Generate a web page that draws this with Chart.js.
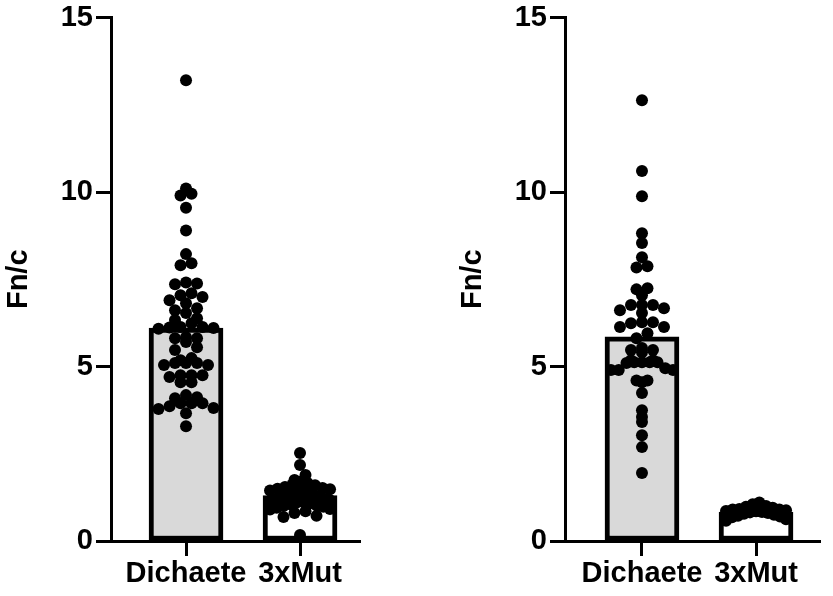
<!DOCTYPE html>
<html>
<head>
<meta charset="utf-8">
<script src="https://cdn.jsdelivr.net/npm/chart.js@4.4.1/dist/chart.umd.min.js"></script>
<style>
  body { margin: 0; background: #fff; }
  canvas { position: absolute; top: 0; }
</style>
</head>
<body>
<canvas id="left" width="416" height="596" style="left:0px"></canvas>
<canvas id="right" width="379" height="596" style="left:454px"></canvas>
<script>
const categories = ["Dichaete", "3xMut"];
const yTicks = [0, 5, 10, 15];

// bar heights (means)
const leftMeans = [6.1, 1.3];
const rightMeans = [5.85, 0.83];

// individual points
const leftDichaete = [13.2, 10.1, 9.95, 9.9, 9.55, 8.9, 8.22, 7.96, 7.9, 7.41, 7.38, 7.36,
  7.1, 7.04, 6.99, 6.9, 6.81, 6.67, 6.61, 6.53, 6.38, 6.33, 6.24, 6.13, 6.13, 6.12, 6.1,
  6.08, 5.84, 5.81, 5.81, 5.7, 5.55, 5.47, 5.24, 5.18, 5.1, 5.1, 5.1, 5.04, 5.04, 4.75,
  4.75, 4.75, 4.7, 4.55, 4.55, 4.18, 4.12, 4.09, 3.95, 3.95, 3.95, 3.86, 3.81, 3.78, 3.66, 3.29];
const left3xMut = [2.52, 2.18, 1.89, 1.75, 1.7, 1.66, 1.62, 1.6, 1.55, 1.52, 1.5, 1.48, 1.45,
  1.42, 1.4, 1.38, 1.36, 1.35, 1.33, 1.3, 1.28, 1.27, 1.25, 1.22, 1.2, 1.18, 1.17, 1.15,
  1.12, 1.1, 1.08, 1.05, 1.02, 1.0, 0.98, 0.95, 0.92, 0.9, 0.85, 0.8, 0.72, 0.69, 0.17];
const rightDichaete = [12.63, 10.6, 9.88, 8.82, 8.54, 8.13, 7.87, 7.84, 7.24, 7.21, 7.04,
  6.76, 6.76, 6.76, 6.67, 6.61, 6.53, 6.27, 6.27, 6.24, 6.13, 6.13, 5.95, 5.81, 5.53, 5.47,
  5.47, 5.41, 5.18, 5.18, 5.12, 5.12, 5.12, 5.12, 5.1, 4.95, 4.9, 4.9, 4.9, 4.6, 4.6, 4.55,
  4.24, 3.75, 3.55, 3.41, 3.03, 2.69, 1.95];
const right3xMut = [1.1, 1.05, 1.0, 0.98, 0.95, 0.92, 0.9, 0.9, 0.88, 0.86, 0.85, 0.83,
  0.82, 0.8, 0.78, 0.75, 0.72, 0.7, 0.68, 0.62, 0.58];

// pixels per data unit on each axis (used only to lay out the swarm)
const PX_Y = 524 / 15;
const PX_X = 114;

Chart.defaults.font.family = "'Liberation Sans', Arial, sans-serif";
Chart.defaults.font.weight = "bold";
Chart.defaults.color = "#000";

// Prism-like scatter: bin values into rows, spread each row around the centre
// (lowest values at the ends of a row, highest in the middle)
function swarm(values, center, maxHalf) {
  const rowH = 10, gap = 11;
  const rows = {};
  values.slice().sort((a, b) => a - b).forEach(v => {
    const k = Math.floor(v * PX_Y / rowH);
    (rows[k] = rows[k] || []).push(v);
  });
  const out = [];
  Object.values(rows).forEach(row => {
    const n = row.length;
    const s = n > 1 ? Math.min(gap, 2 * maxHalf / (n - 1)) : 0;
    const even = row.filter((v, i) => i % 2 === 0);
    const odd = row.filter((v, i) => i % 2 === 1).reverse();
    even.concat(odd).forEach((v, i) => {
      const off = (i - (n - 1) / 2) * s;
      out.push({ x: center + off / PX_X, y: v });
    });
  });
  return out;
}

function makeChart(id, means, groups, xMin, xMax, padRight) {
  const points = swarm(groups[0], 0, 31).concat(swarm(groups[1], 1, 30));
  return new Chart(document.getElementById(id), {
    type: "bar",
    data: {
      datasets: [
        {
          type: "scatter",
          data: points,
          pointRadius: 6,
          pointHoverRadius: 6,
          pointBackgroundColor: "#000",
          pointBorderWidth: 0,
          order: 0
        },
        {
          data: means.map((m, i) => ({ x: i, y: m })),
          backgroundColor: ["#d9d9d9", "#ffffff"],
          borderColor: "#000",
          borderWidth: 5,
          borderSkipped: false,
          barThickness: 74,
          order: 1
        }
      ]
    },
    options: {
      responsive: false,
      animation: false,
      layout: { padding: { top: 17, right: padRight, left: 0, bottom: 0 } },
      plugins: { legend: { display: false }, tooltip: { enabled: false } },
      scales: {
        x: {
          type: "linear",
          offset: false,
          min: xMin,
          max: xMax,
          afterBuildTicks: (scale) => { scale.ticks = categories.map((c, i) => ({ value: i })); },
          afterFit: (scale) => { scale.height = 55; },
          border: { display: true, width: 3, color: "#000" },
          grid: { display: true, offset: false, drawOnChartArea: false, drawTicks: true, tickLength: 15, tickWidth: 3, tickColor: "#000" },
          ticks: {
            font: { size: 29, weight: "bold", lineHeight: 1 },
            padding: 3,
            maxRotation: 0,
            autoSkip: false,
            callback: (v) => categories[v]
          }
        },
        y: {
          min: 0,
          max: 15,
          afterBuildTicks: (scale) => { scale.ticks = yTicks.map(v => ({ value: v })); },
          afterFit: (scale) => { scale.width = 111; },
          border: { display: true, width: 3, color: "#000" },
          grid: { display: true, drawOnChartArea: false, drawTicks: true, tickLength: 15, tickWidth: 3, tickColor: "#000" },
          ticks: { font: { size: 29, weight: "bold", lineHeight: 1 }, padding: 3 },
          title: {
            display: true,
            text: "Fn/c",
            font: { size: 29, weight: "bold", lineHeight: 1.2 },
            padding: { top: 2, bottom: 0 }
          }
        }
      }
    }
  });
}

makeChart("left", leftMeans, [leftDichaete, left3xMut], -0.658, 1.526, 56);
makeChart("right", rightMeans, [rightDichaete, right3xMut], -0.675, 1.561, 13);
</script>
</body>
</html>
